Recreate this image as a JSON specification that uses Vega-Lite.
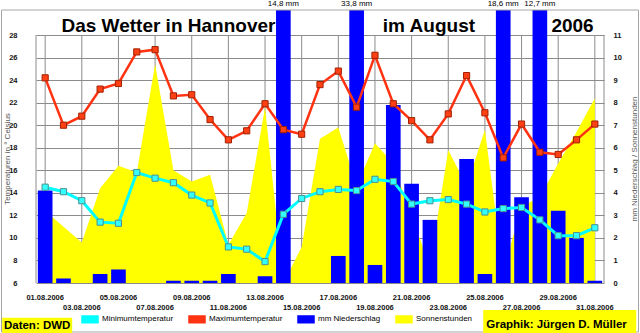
{
  "$schema": "https://vega.github.io/schema/vega-lite/v6.json",
  "width": 568,
  "height": 273,
  "autosize": {"type": "none"},
  "padding": {"left": 36, "top": 10, "right": 36, "bottom": 50},
  "background": "white",
  "config": {"view": {"stroke": null}, "font": "Liberation Sans"},
  "data": {"values": [
    {"date": "01.08.2006", "tmin": 14.5, "tmax": 24.2, "rain": 4.1, "sun": 3.2},
    {"date": "02.08.2006", "tmin": 14.1, "tmax": 20.0, "rain": 0.2, "sun": 2.5},
    {"date": "03.08.2006", "tmin": 13.3, "tmax": 20.8, "rain": 0, "sun": 1.8},
    {"date": "04.08.2006", "tmin": 11.4, "tmax": 23.2, "rain": 0.4, "sun": 4.2},
    {"date": "05.08.2006", "tmin": 11.3, "tmax": 23.7, "rain": 0.6, "sun": 5.2},
    {"date": "06.08.2006", "tmin": 15.8, "tmax": 26.5, "rain": 0, "sun": 4.9},
    {"date": "07.08.2006", "tmin": 15.3, "tmax": 26.7, "rain": 0, "sun": 9.7},
    {"date": "08.08.2006", "tmin": 14.9, "tmax": 22.6, "rain": 0.1, "sun": 5.0},
    {"date": "09.08.2006", "tmin": 13.8, "tmax": 22.7, "rain": 0.1, "sun": 4.5},
    {"date": "10.08.2006", "tmin": 13.1, "tmax": 20.5, "rain": 0.1, "sun": 4.8},
    {"date": "11.08.2006", "tmin": 9.2, "tmax": 18.7, "rain": 0.4, "sun": 1.7},
    {"date": "12.08.2006", "tmin": 9.0, "tmax": 19.5, "rain": 0, "sun": 3.1},
    {"date": "13.08.2006", "tmin": 7.9, "tmax": 21.9, "rain": 0.3, "sun": 7.8},
    {"date": "14.08.2006", "tmin": 12.1, "tmax": 19.6, "rain": 14.8, "sun": 0},
    {"date": "15.08.2006", "tmin": 13.5, "tmax": 19.2, "rain": 0, "sun": 1.6},
    {"date": "16.08.2006", "tmin": 14.1, "tmax": 23.6, "rain": 0, "sun": 6.4},
    {"date": "17.08.2006", "tmin": 14.3, "tmax": 24.8, "rain": 1.2, "sun": 6.9},
    {"date": "18.08.2006", "tmin": 14.2, "tmax": 21.6, "rain": 33.8, "sun": 4.3},
    {"date": "19.08.2006", "tmin": 15.2, "tmax": 26.2, "rain": 0.8, "sun": 6.2},
    {"date": "20.08.2006", "tmin": 15.0, "tmax": 21.9, "rain": 7.9, "sun": 5.3},
    {"date": "21.08.2006", "tmin": 13.0, "tmax": 20.4, "rain": 4.4, "sun": 2.9},
    {"date": "22.08.2006", "tmin": 13.3, "tmax": 18.7, "rain": 2.8, "sun": 0.8},
    {"date": "23.08.2006", "tmin": 13.4, "tmax": 21.0, "rain": 0, "sun": 5.9},
    {"date": "24.08.2006", "tmin": 13.0, "tmax": 24.4, "rain": 5.5, "sun": 4.3},
    {"date": "25.08.2006", "tmin": 12.3, "tmax": 21.1, "rain": 0.4, "sun": 6.8},
    {"date": "26.08.2006", "tmin": 12.6, "tmax": 17.1, "rain": 18.6, "sun": 0.5},
    {"date": "27.08.2006", "tmin": 12.7, "tmax": 20.1, "rain": 3.8, "sun": 3.4},
    {"date": "28.08.2006", "tmin": 11.6, "tmax": 17.6, "rain": 12.7, "sun": 3.8},
    {"date": "29.08.2006", "tmin": 10.2, "tmax": 17.4, "rain": 3.2, "sun": 5.3},
    {"date": "30.08.2006", "tmin": 10.2, "tmax": 18.7, "rain": 2.0, "sun": 6.7},
    {"date": "31.08.2006", "tmin": 10.9, "tmax": 20.1, "rain": 0.1, "sun": 8.2}
  ]},
  "encoding": {
    "x": {
      "field": "date", "type": "ordinal", "sort": null,
      "scale": {"paddingInner": 0.2, "paddingOuter": 0.1,
        "domain": ["01.08.2006","02.08.2006","03.08.2006","04.08.2006","05.08.2006","06.08.2006","07.08.2006","08.08.2006","09.08.2006","10.08.2006","11.08.2006","12.08.2006","13.08.2006","14.08.2006","15.08.2006","16.08.2006","17.08.2006","18.08.2006","19.08.2006","20.08.2006","21.08.2006","22.08.2006","23.08.2006","24.08.2006","25.08.2006","26.08.2006","27.08.2006","28.08.2006","29.08.2006","30.08.2006","31.08.2006"]},
      "axis": {
        "title": null,
        "values": ["01.08.2006","03.08.2006","05.08.2006","07.08.2006","09.08.2006","11.08.2006","13.08.2006","15.08.2006","17.08.2006","19.08.2006","21.08.2006","23.08.2006","25.08.2006","27.08.2006","29.08.2006","31.08.2006"],
        "labelExpr": "toNumber(slice(datum.value,0,2)) % 4 == 3 ? ['', datum.value] : datum.value",
        "labelAngle": 0,
        "labelBaseline": "top",
        "labelLineHeight": 10,
        "labelPadding": 10,
        "labelFontSize": 7.5,
        "labelFontWeight": "bold",
        "labelColor": "#111111",
        "labelOverlap": false,
        "labelFlush": false,
        "labelBound": false,
        "domain": false,
        "ticks": false,
        "grid": false
      }
    }
  },
  "resolve": {"scale": {"y": "independent"}},
  "layer": [
    {
      "transform": [{"filter": "toNumber(slice(datum.date,0,2)) % 2 == 1"}],
      "mark": {"type": "rule", "color": "#8c8c8c", "strokeWidth": 1},
      "encoding": {
        "y": {"datum": 0, "type": "quantitative", "scale": {"domain": [0, 12.109]}, "axis": null},
        "y2": {"datum": 11}
      }
    },
    {
      "data": {"values": [{}]},
      "mark": {"type": "rule", "color": "#8c8c8c", "strokeWidth": 1},
      "encoding": {
        "x": {"datum": "01.08.2006", "type": "ordinal", "bandPosition": -0.125},
        "y": {"datum": 0, "type": "quantitative", "scale": {"domain": [0, 12.109]}, "axis": null},
        "y2": {"datum": 11}
      }
    },
    {
      "data": {"values": [{}]},
      "mark": {"type": "rule", "color": "#8c8c8c", "strokeWidth": 1},
      "encoding": {
        "x": {"datum": "31.08.2006", "type": "ordinal", "bandPosition": 1.125},
        "y": {"datum": 0, "type": "quantitative", "scale": {"domain": [0, 12.109]}, "axis": null},
        "y2": {"datum": 11}
      }
    },
    {
      "mark": {"type": "area", "opacity": 1},
      "encoding": {
        "y": {
          "field": "sun", "type": "quantitative",
          "scale": {"domain": [0, 12.109]},
          "axis": {
            "orient": "right",
            "values": [0,1,2,3,4,5,6,7,8,9,10,11],
            "grid": true, "gridColor": "#8c8c8c", "gridWidth": 1,
            "domain": false, "ticks": false,
            "labelPadding": 9, "labelFontSize": 7.5, "labelFontWeight": "bold", "labelColor": "#111111",
            "title": "mm Niederschlag  /  Sonnenstunden",
            "titleFontSize": 8, "titleFontWeight": "normal", "titleColor": "#595959",
            "titleAngle": 270, "titleAlign": "center", "titleBaseline": "middle",
            "titleX": 30.5, "titleY": 148.5
          }
        },
        "color": {
          "datum": "Sonnenstunden", "type": "nominal",
          "scale": {
            "domain": ["Minimumtemperatur", "Maximumtemperatur", "mm Niederschlag", "Sonnenstunden"],
            "range": ["#00ffff", "#ff3311", "#0000ff", "#ffff00"]
          },
          "legend": {
            "orient": "none", "legendX": 45, "legendY": 300,
            "direction": "horizontal", "title": null, "padding": 0,
            "labelFontSize": 8, "labelColor": "#000000", "labelOffset": 3,
            "columnPadding": 12, "symbolSize": 256,
            "symbolType": "M-1,-0.42H1V0.42H-1Z",
            "encode": {
              "symbols": {
                "update": {
                  "shape": {"signal": "(datum.value === 'Minimumtemperatur' || datum.value === 'Maximumtemperatur') ? 'M-1,-0.12H-0.42V-0.42H0.42V-0.12H1V0.12H0.42V0.42H-0.42V0.12H-1Z' : 'M-1,-0.42H1V0.42H-1Z'"},
                  "fill": {"scale": "color", "field": "value"},
                  "stroke": {"value": "transparent"},
                  "strokeWidth": {"value": 0},
                  "opacity": {"value": 1},
                  "size": {"value": 256}
                }
              }
            }
          }
        }
      }
    },
    {
      "mark": {"type": "bar"},
      "encoding": {
        "y": {"field": "rain", "type": "quantitative", "scale": {"domain": [0, 12.109], "clamp": true}, "axis": null},
        "color": {"datum": "mm Niederschlag", "type": "nominal"}
      }
    },
    {
      "mark": {"type": "line", "strokeWidth": 3},
      "encoding": {
        "y": {
          "field": "tmin", "type": "quantitative",
          "scale": {"domain": [6, 30.218]},
          "axis": {
            "orient": "left",
            "values": [6,8,10,12,14,16,18,20,22,24,26,28],
            "grid": false, "domain": false, "ticks": false,
            "labelPadding": 19, "labelFontSize": 7.5, "labelFontWeight": "bold", "labelColor": "#111111",
            "title": "Temperaturen in ° Celsius",
            "titleFontSize": 8, "titleFontWeight": "normal", "titleColor": "#595959",
            "titleAngle": 270, "titleAlign": "center", "titleBaseline": "middle",
            "titleX": -29, "titleY": 148.5
          }
        },
        "color": {"datum": "Minimumtemperatur", "type": "nominal"}
      }
    },
    {
      "mark": {"type": "line", "strokeWidth": 2.5},
      "encoding": {
        "y": {"field": "tmax", "type": "quantitative", "scale": {"domain": [6, 30.218]}, "axis": null},
        "color": {"datum": "Maximumtemperatur", "type": "nominal"}
      }
    },
    {
      "mark": {"type": "point", "shape": "square", "filled": true, "size": 38, "fill": "#33ffff", "stroke": "#4a9090", "strokeWidth": 1, "opacity": 1},
      "encoding": {
        "y": {"field": "tmin", "type": "quantitative", "scale": {"domain": [6, 30.218]}, "axis": null}
      }
    },
    {
      "mark": {"type": "point", "shape": "square", "filled": true, "size": 38, "fill": "#ff4015", "stroke": "#a02000", "strokeWidth": 1, "opacity": 1},
      "encoding": {
        "y": {"field": "tmax", "type": "quantitative", "scale": {"domain": [6, 30.218]}, "axis": null}
      }
    },
    {
      "transform": [{"filter": "datum.rain > 12"}],
      "mark": {"type": "text", "fontSize": 8, "color": "#000000", "align": "center", "baseline": "middle",
               "text": {"expr": "replace(format(datum.rain, '.1f'), '.', ',') + ' mm'"}},
      "encoding": {
        "y": {"datum": 12.353, "type": "quantitative", "scale": {"domain": [0, 12.109]}, "axis": null}
      }
    },
    {
      "data": {"values": [{}]},
      "mark": {"type": "bar", "fill": null, "filled": false, "stroke": "#a6a6a6", "strokeWidth": 1, "width": 637},
      "encoding": {
        "x": {"datum": "16.08.2006", "type": "ordinal"},
        "y": {"datum": 12.109, "type": "quantitative", "scale": {"domain": [0, 12.109]}, "axis": null},
        "y2": {"datum": -2.173}
      }
    },
    {
      "data": {"values": [{}]},
      "mark": {"type": "text", "text": "Das Wetter in Hannover", "fontSize": 19, "fontWeight": "bold", "color": "#000000", "align": "center", "baseline": "alphabetic", "dx": -5},
      "encoding": {
        "x": {"datum": "08.08.2006", "type": "ordinal"},
        "y": {"datum": 11.147, "type": "quantitative", "scale": {"domain": [0, 12.109]}, "axis": null}
      }
    },
    {
      "data": {"values": [{}]},
      "mark": {"type": "text", "text": "im August", "fontSize": 19, "fontWeight": "bold", "color": "#000000", "align": "center", "baseline": "alphabetic", "dx": -1},
      "encoding": {
        "x": {"datum": "22.08.2006", "type": "ordinal"},
        "y": {"datum": 11.147, "type": "quantitative", "scale": {"domain": [0, 12.109]}, "axis": null}
      }
    },
    {
      "data": {"values": [{}]},
      "mark": {"type": "text", "text": "2006", "fontSize": 19, "fontWeight": "bold", "color": "#000000", "align": "center", "baseline": "alphabetic", "dx": -4},
      "encoding": {
        "x": {"datum": "30.08.2006", "type": "ordinal"},
        "y": {"datum": 11.147, "type": "quantitative", "scale": {"domain": [0, 12.109]}, "axis": null}
      }
    },
    {
      "data": {"values": [{}]},
      "mark": {"type": "bar", "color": "#ffff00", "width": 70, "xOffset": -8},
      "encoding": {
        "x": {"datum": "01.08.2006", "type": "ordinal"},
        "y": {"datum": -1.539, "type": "quantitative", "scale": {"domain": [0, 12.109]}, "axis": null},
        "y2": {"datum": -2.218}
      }
    },
    {
      "data": {"values": [{}]},
      "mark": {"type": "bar", "color": "#ffff00", "width": 153, "xOffset": 1.5},
      "encoding": {
        "x": {"datum": "29.08.2006", "type": "ordinal"},
        "y": {"datum": -1.198, "type": "quantitative", "scale": {"domain": [0, 12.109]}, "axis": null},
        "y2": {"datum": -2.218}
      }
    },
    {
      "data": {"values": [{}]},
      "mark": {"type": "text", "text": "Daten: DWD", "fontSize": 11.5, "fontWeight": "bold", "color": "#000000", "align": "center", "baseline": "middle", "dx": -8},
      "encoding": {
        "x": {"datum": "01.08.2006", "type": "ordinal"},
        "y": {"datum": -1.907, "type": "quantitative", "scale": {"domain": [0, 12.109]}, "axis": null}
      }
    },
    {
      "data": {"values": [{}]},
      "mark": {"type": "text", "text": "Graphik: Jürgen D. Müller", "fontSize": 11.5, "fontWeight": "bold", "color": "#000000", "align": "center", "baseline": "middle", "dx": -1.7},
      "encoding": {
        "x": {"datum": "29.08.2006", "type": "ordinal"},
        "y": {"datum": -1.863, "type": "quantitative", "scale": {"domain": [0, 12.109]}, "axis": null}
      }
    }
  ]
}
